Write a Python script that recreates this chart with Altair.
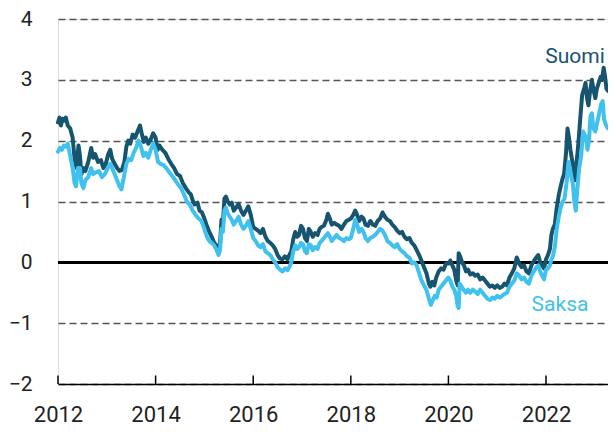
import altair as alt
import pandas as pd

# --- data ---
suomi_t = [2012.00, 2012.03, 2012.06, 2012.09, 2012.12, 2012.16, 2012.20, 2012.25, 2012.30, 2012.34,
           2012.38, 2012.42, 2012.45, 2012.48, 2012.52, 2012.56, 2012.62, 2012.68, 2012.72, 2012.76,
           2012.82, 2012.88, 2012.93, 2012.98, 2013.03, 2013.07, 2013.11, 2013.16, 2013.21, 2013.26,
           2013.31, 2013.36, 2013.40, 2013.44, 2013.48, 2013.53, 2013.58, 2013.63, 2013.68, 2013.72,
           2013.76, 2013.80, 2013.85, 2013.90, 2013.95, 2014.00, 2014.04, 2014.08, 2014.14, 2014.20,
           2014.26, 2014.32, 2014.38, 2014.44, 2014.50, 2014.56, 2014.62, 2014.68, 2014.72, 2014.76,
           2014.80, 2014.86, 2014.90, 2014.95, 2015.00, 2015.05, 2015.10, 2015.15, 2015.20, 2015.25,
           2015.29, 2015.32, 2015.35, 2015.38, 2015.41, 2015.44, 2015.48, 2015.52, 2015.56, 2015.60,
           2015.65, 2015.70, 2015.75, 2015.80, 2015.85, 2015.90, 2015.95, 2016.00, 2016.05, 2016.10,
           2016.15, 2016.20, 2016.25, 2016.30, 2016.35, 2016.40, 2016.45, 2016.50, 2016.55, 2016.60,
           2016.65, 2016.70, 2016.74, 2016.78, 2016.82, 2016.86, 2016.90, 2016.94, 2016.98, 2017.02,
           2017.06, 2017.10, 2017.14, 2017.18, 2017.22, 2017.27, 2017.32, 2017.36, 2017.40, 2017.45,
           2017.50, 2017.53, 2017.57, 2017.61, 2017.66, 2017.71, 2017.76, 2017.81, 2017.86, 2017.91,
           2017.96, 2018.00, 2018.05, 2018.09, 2018.13, 2018.17, 2018.22, 2018.26, 2018.30, 2018.35,
           2018.40, 2018.45, 2018.50, 2018.55, 2018.60, 2018.65, 2018.70, 2018.75, 2018.80, 2018.85,
           2018.90, 2018.95, 2019.00, 2019.05, 2019.10, 2019.15, 2019.20, 2019.25, 2019.30, 2019.35,
           2019.40, 2019.45, 2019.50, 2019.55, 2019.60, 2019.63, 2019.67, 2019.71, 2019.75, 2019.80,
           2019.85, 2019.90, 2019.95, 2020.00, 2020.04, 2020.08, 2020.12, 2020.16, 2020.19, 2020.21,
           2020.24, 2020.28, 2020.32, 2020.36, 2020.40, 2020.45, 2020.50, 2020.55, 2020.60, 2020.65,
           2020.70, 2020.75, 2020.80, 2020.85, 2020.90, 2020.95, 2021.00, 2021.05, 2021.10, 2021.15,
           2021.20, 2021.25, 2021.30, 2021.35, 2021.40, 2021.45, 2021.50, 2021.55, 2021.60, 2021.65,
           2021.70, 2021.75, 2021.80, 2021.84, 2021.88, 2021.92, 2021.96, 2022.00, 2022.04, 2022.08,
           2022.11, 2022.14, 2022.18, 2022.22, 2022.26, 2022.30, 2022.34, 2022.37, 2022.41, 2022.44,
           2022.47, 2022.50, 2022.53, 2022.56, 2022.59, 2022.62, 2022.66, 2022.70, 2022.74, 2022.78,
           2022.81, 2022.84, 2022.87, 2022.90, 2022.94, 2022.97, 2023.01, 2023.04, 2023.08, 2023.12,
           2023.15, 2023.18, 2023.21, 2023.24, 2023.27]
suomi_v = [2.30, 2.38, 2.25, 2.36, 2.33, 2.38, 2.25, 2.20, 2.05, 1.70,
           1.55, 1.92, 1.75, 1.45, 1.55, 1.50, 1.65, 1.88, 1.72, 1.78,
           1.65, 1.68, 1.55, 1.62, 1.78, 1.85, 1.70, 1.62, 1.55, 1.50,
           1.52, 1.65, 1.90, 2.00, 1.95, 2.10, 2.05, 2.15, 2.25, 2.10,
           1.98, 2.05, 1.95, 2.02, 2.12, 2.05, 1.85, 1.92, 1.85, 1.80,
           1.70, 1.62, 1.55, 1.45, 1.42, 1.30, 1.22, 1.15, 1.12, 1.02,
           0.95, 0.98, 0.85, 0.82, 0.72, 0.60, 0.50, 0.42, 0.32, 0.28,
           0.22, 0.30, 0.70, 0.65, 1.05, 1.08, 1.00, 0.95, 0.98, 0.85,
           0.90, 0.96, 0.85, 0.78, 0.85, 0.92, 0.78, 0.58, 0.55, 0.52,
           0.48, 0.55, 0.42, 0.35, 0.32, 0.28, 0.22, 0.12, 0.06, 0.05,
           0.10, 0.05, 0.12, 0.18, 0.38, 0.50, 0.42, 0.45, 0.60, 0.55,
           0.40, 0.35, 0.55, 0.50, 0.42, 0.48, 0.45, 0.55, 0.58, 0.60,
           0.70, 0.80, 0.72, 0.62, 0.65, 0.62, 0.60, 0.55, 0.62, 0.68,
           0.70, 0.72, 0.78, 0.85, 0.78, 0.68, 0.75, 0.72, 0.62, 0.60,
           0.68, 0.62, 0.60, 0.68, 0.72, 0.82, 0.75, 0.70, 0.68, 0.62,
           0.58, 0.52, 0.48, 0.50, 0.42, 0.38, 0.40, 0.32, 0.28, 0.20,
           0.12, 0.02, -0.08, -0.18, -0.35, -0.40, -0.32, -0.38, -0.25, -0.15,
           -0.10, -0.12, -0.02, -0.02, 0.03, -0.05, -0.12, -0.30, -0.38, 0.15,
           0.10, 0.00, -0.05, -0.15, -0.12, -0.20, -0.18, -0.22, -0.20, -0.28,
           -0.25, -0.30, -0.35, -0.40, -0.38, -0.42, -0.38, -0.42, -0.40, -0.35,
           -0.38, -0.25, -0.18, -0.10, 0.08, -0.02, -0.08, -0.05, -0.15, -0.18,
           -0.05, 0.02, 0.08, 0.12, 0.00, -0.05, -0.10, 0.05, 0.12, 0.22,
           0.45, 0.55, 0.62, 0.90, 1.10, 1.25, 1.38, 1.45, 1.80, 2.20,
           2.05, 1.85, 1.70, 1.55, 1.35, 1.60, 1.92, 2.35, 2.75, 2.85,
           2.95, 2.70, 2.58, 2.80, 3.00, 2.85, 2.70, 2.85, 2.95, 3.05,
           3.00, 3.20, 3.05, 2.85, 2.82]

saksa_t = [2012.00, 2012.04, 2012.08, 2012.12, 2012.16, 2012.20, 2012.25, 2012.30, 2012.34, 2012.37,
           2012.41, 2012.45, 2012.48, 2012.52, 2012.56, 2012.62, 2012.68, 2012.72, 2012.78, 2012.84,
           2012.90, 2012.96, 2013.02, 2013.07, 2013.11, 2013.16, 2013.21, 2013.26, 2013.30, 2013.35,
           2013.40, 2013.45, 2013.50, 2013.55, 2013.60, 2013.65, 2013.70, 2013.75, 2013.80, 2013.85,
           2013.90, 2013.95, 2014.00, 2014.05, 2014.10, 2014.16, 2014.22, 2014.28, 2014.34, 2014.40,
           2014.46, 2014.52, 2014.58, 2014.64, 2014.70, 2014.76, 2014.82, 2014.88, 2014.94, 2015.00,
           2015.05, 2015.10, 2015.15, 2015.20, 2015.25, 2015.29, 2015.32, 2015.35, 2015.38, 2015.41,
           2015.44, 2015.48, 2015.52, 2015.56, 2015.60, 2015.65, 2015.70, 2015.75, 2015.80, 2015.85,
           2015.90, 2015.95, 2016.00, 2016.05, 2016.10, 2016.15, 2016.20, 2016.25, 2016.30, 2016.35,
           2016.40, 2016.45, 2016.50, 2016.55, 2016.60, 2016.65, 2016.70, 2016.74, 2016.78, 2016.82,
           2016.86, 2016.90, 2016.94, 2016.98, 2017.02, 2017.06, 2017.10, 2017.14, 2017.18, 2017.22,
           2017.27, 2017.32, 2017.36, 2017.40, 2017.45, 2017.50, 2017.53, 2017.57, 2017.61, 2017.66,
           2017.71, 2017.76, 2017.81, 2017.86, 2017.91, 2017.96, 2018.00, 2018.05, 2018.09, 2018.13,
           2018.17, 2018.22, 2018.26, 2018.30, 2018.35, 2018.40, 2018.45, 2018.50, 2018.55, 2018.60,
           2018.65, 2018.70, 2018.75, 2018.80, 2018.85, 2018.90, 2018.95, 2019.00, 2019.05, 2019.10,
           2019.15, 2019.20, 2019.25, 2019.30, 2019.35, 2019.40, 2019.45, 2019.50, 2019.55, 2019.60,
           2019.64, 2019.68, 2019.72, 2019.76, 2019.80, 2019.85, 2019.90, 2019.95, 2020.00, 2020.04,
           2020.08, 2020.12, 2020.16, 2020.19, 2020.21, 2020.23, 2020.27, 2020.31, 2020.36, 2020.40,
           2020.45, 2020.50, 2020.55, 2020.60, 2020.65, 2020.70, 2020.75, 2020.80, 2020.85, 2020.90,
           2020.95, 2021.00, 2021.05, 2021.10, 2021.15, 2021.20, 2021.25, 2021.30, 2021.35, 2021.40,
           2021.45, 2021.50, 2021.55, 2021.60, 2021.65, 2021.70, 2021.75, 2021.80, 2021.84, 2021.88,
           2021.92, 2021.96, 2022.00, 2022.04, 2022.08, 2022.11, 2022.14, 2022.18, 2022.22, 2022.26,
           2022.30, 2022.34, 2022.38, 2022.42, 2022.46, 2022.49, 2022.52, 2022.55, 2022.58, 2022.61,
           2022.64, 2022.68, 2022.72, 2022.76, 2022.79, 2022.82, 2022.85, 2022.88, 2022.91, 2022.94,
           2022.97, 2023.01, 2023.05, 2023.09, 2023.13, 2023.16, 2023.19, 2023.23, 2023.27]
saksa_v = [1.82, 1.88, 1.85, 1.92, 1.90, 1.95, 1.75, 1.55, 1.30, 1.25,
           1.55, 1.55, 1.30, 1.22, 1.35, 1.40, 1.55, 1.45, 1.48, 1.50,
           1.40, 1.45, 1.55, 1.62, 1.55, 1.45, 1.35, 1.25, 1.20, 1.40,
           1.62, 1.70, 1.68, 1.80, 1.88, 2.00, 1.90, 1.75, 1.80, 1.72,
           1.85, 1.95, 1.85, 1.65, 1.62, 1.60, 1.55, 1.48, 1.42, 1.35,
           1.28, 1.22, 1.12, 1.00, 0.95, 0.85, 0.78, 0.72, 0.68, 0.55,
           0.42, 0.35, 0.32, 0.28, 0.20, 0.12, 0.20, 0.55, 0.50, 0.85,
           0.90, 0.80, 0.75, 0.70, 0.62, 0.68, 0.75, 0.62, 0.55, 0.60,
           0.68, 0.55, 0.40, 0.35, 0.28, 0.25, 0.30, 0.18, 0.15, 0.12,
           0.05, 0.00, -0.08, -0.12, -0.15, -0.10, -0.13, -0.08, 0.00, 0.18,
           0.28, 0.22, 0.25, 0.32, 0.30, 0.18, 0.15, 0.30, 0.28, 0.20,
           0.25, 0.22, 0.32, 0.35, 0.40, 0.45, 0.48, 0.42, 0.35, 0.40,
           0.45, 0.40, 0.38, 0.35, 0.40, 0.38, 0.40, 0.55, 0.70, 0.62,
           0.50, 0.55, 0.50, 0.40, 0.35, 0.40, 0.42, 0.45, 0.50, 0.55,
           0.52, 0.45, 0.35, 0.32, 0.28, 0.25, 0.30, 0.22, 0.18, 0.15,
           0.10, 0.08, -0.02, 0.00, -0.05, -0.18, -0.30, -0.38, -0.45, -0.60,
           -0.70, -0.62, -0.55, -0.58, -0.45, -0.40, -0.35, -0.30, -0.25, -0.30,
           -0.40, -0.45, -0.55, -0.72, -0.75, -0.35, -0.40, -0.45, -0.50, -0.45,
           -0.50, -0.45, -0.48, -0.52, -0.45, -0.50, -0.55, -0.60, -0.62, -0.58,
           -0.60, -0.55, -0.58, -0.55, -0.52, -0.50, -0.40, -0.35, -0.30, -0.18,
           -0.22, -0.28, -0.25, -0.32, -0.35, -0.22, -0.15, -0.08, -0.05, -0.15,
           -0.22, -0.28, -0.12, -0.10, -0.05, 0.05, 0.10, 0.25, 0.55, 0.75,
           0.90, 1.00, 1.05, 1.30, 1.65, 1.55, 1.40, 1.30, 1.00, 0.85,
           1.20, 1.55, 1.75, 2.15, 2.10, 2.05, 1.85, 2.00, 2.40, 2.45,
           2.20, 2.15, 2.30, 2.45, 2.60, 2.65, 2.35, 2.25, 2.20]

series_names = ["Suomi", "Saksa"]
series_colors = ["#17546f", "#41c1ee"]
year_ticks = [2012, 2014, 2016, 2018, 2020, 2022]
y_ticks = [-2, -1, 0, 1, 2, 3, 4]

FONT = "Roboto"

df = pd.concat([
    pd.DataFrame({"t": suomi_t, "v": suomi_v, "s": "Suomi"}),
    pd.DataFrame({"t": saksa_t, "v": saksa_v, "s": "Saksa"}),
])
ticks_df = pd.DataFrame({"t": year_ticks})

xscale = alt.Scale(domain=[2012, 2023.27], nice=False, zero=False)
yscale = alt.Scale(domain=[-2, 4], nice=False, zero=False)

x_axis = alt.Axis(values=year_ticks, format="d", title=None, grid=False,
                  ticks=False, domain=True, domainColor="#000000", domainWidth=1.5,
                  labelFont=FONT, labelFontSize=22, labelColor="#222222",
                  labelPadding=20, labelFlush=False)
y_axis = alt.Axis(values=y_ticks, format="d", title=None, grid=True, gridDash=[7, 4],
                  gridColor="#555555", gridWidth=1.3, domain=False, ticks=False,
                  labelFont=FONT, labelFontSize=21, labelColor="#222222",
                  labelPadding=26)

zero = alt.Chart(df).mark_rule(color="#000000", strokeWidth=2).encode(
    y=alt.datum(0, scale=yscale, axis=y_axis)
)

lines = alt.Chart(df).mark_line(strokeWidth=4, strokeJoin="round", strokeCap="round").encode(
    x=alt.X("t:Q", scale=xscale, axis=x_axis),
    y=alt.Y("v:Q", scale=yscale, axis=y_axis),
    color=alt.Color("s:N", scale=alt.Scale(domain=series_names, range=series_colors), legend=None),
    order=alt.Order("t:Q"),
    detail="s:N",
)

xticks = alt.Chart(ticks_df).mark_rule(color="#000000", strokeWidth=1.5).encode(
    x=alt.X("t:Q", scale=xscale, axis=x_axis),
    y=alt.datum(-2, scale=yscale),
    y2=alt.datum(-1.86),
)

lab_suomi = alt.Chart(pd.DataFrame({"s": ["Suomi"]})).mark_text(
    font=FONT, fontSize=21, color=series_colors[0], align="center", baseline="alphabetic"
).encode(text="s:N", x=alt.value(517), y=alt.value(44))

lab_saksa = alt.Chart(pd.DataFrame({"s": ["Saksa"]})).mark_text(
    font=FONT, fontSize=21, color=series_colors[1], align="center", baseline="alphabetic"
).encode(text="s:N", x=alt.value(502), y=alt.value(292))

chart = alt.layer(zero, lines, xticks, lab_suomi, lab_saksa).properties(
    width=550, height=365,
    autosize=alt.AutoSizeParams(type="none"),
    padding={"left": 50, "top": 11, "right": 0, "bottom": 46},
).configure_view(stroke=None).configure(background="#ffffff")

chart.save("out.html", embed_options={"renderer": "svg", "actions": False})
